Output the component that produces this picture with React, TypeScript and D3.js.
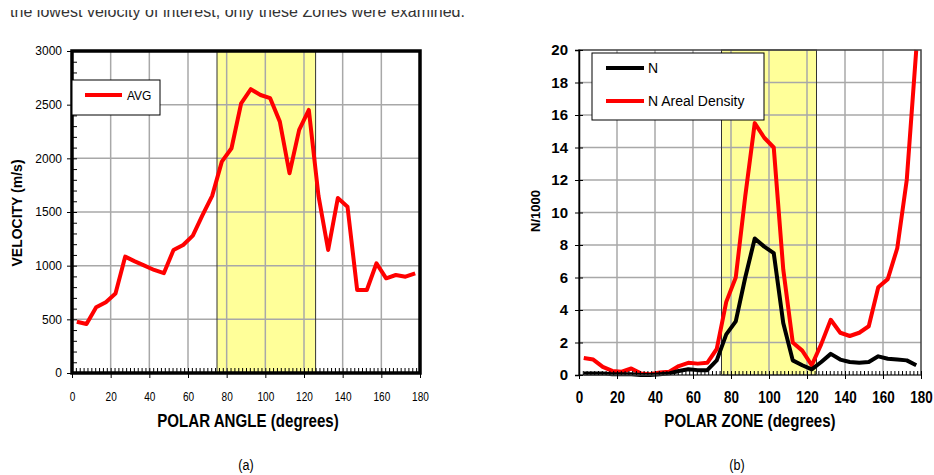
import React, { useEffect, useRef } from "react";
import * as d3 from "d3";

// zone centres (degrees) shared by both panels
const polarAngle = [
  2.5, 7.5, 12.5, 17.5, 22.5, 27.5, 32.5, 37.5, 42.5, 47.5, 52.5, 57.5,
  62.5, 67.5, 72.5, 77.5, 82.5, 87.5, 92.5, 97.5, 102.5, 107.5, 112.5, 117.5,
  122.5, 127.5, 132.5, 137.5, 142.5, 147.5, 152.5, 157.5, 162.5, 167.5, 172.5, 177.5,
];

// (a) average velocity, m/s
const velocityAvg = [
  478, 456, 612, 660, 740, 1084, 1040, 1000, 960, 930, 1146, 1193,
  1280, 1470, 1650, 1969, 2094, 2513, 2644, 2590, 2560, 2342, 1861, 2265,
  2451, 1650, 1146, 1630, 1550, 773, 773, 1022, 882, 913, 897, 929,
];

// (b) N/1000
const nCount = [
  0.1, 0.1, 0.1, 0.05, 0.05, 0.05, 0.0, 0.0, 0.05, 0.1, 0.25, 0.35,
  0.3, 0.3, 0.9, 2.5, 3.3, 6.0, 8.4, 7.9, 7.5, 3.2, 0.9, 0.6,
  0.35, 0.8, 1.3, 0.95, 0.8, 0.75, 0.8, 1.15, 1.0, 0.95, 0.9, 0.6,
];

const nArealDensity = [
  1.05, 0.95, 0.5, 0.25, 0.2, 0.4, 0.1, 0.05, 0.15, 0.2, 0.55, 0.75,
  0.7, 0.75, 1.6, 4.5, 6.0, 11.0, 15.5, 14.6, 14.0, 6.5, 2.0, 1.5,
  0.6, 1.9, 3.4, 2.6, 2.4, 2.6, 3.0, 5.4, 5.9, 7.8, 12.0, 20.0,
];

const xTicks = [0, 20, 40, 60, 80, 100, 120, 140, 160, 180];
const velocityTicks = [0, 500, 1000, 1500, 2000, 2500, 3000];
const densityTicks = [0, 2, 4, 6, 8, 10, 12, 14, 16, 18, 20];
const bandA = [75, 126];
const bandB = [75, 125];

const SANS = "'Liberation Sans', Arial, sans-serif";
const GRID = "#a8a8a8";
const YELLOW = "#ffff99";
const SQUEEZE = 0.84; // mimic Arial Narrow

const App = () => {
  const svgRef = useRef<SVGSVGElement>(null);

  useEffect(() => {
    const svg = d3.select(svgRef.current);
    svg.selectAll("*").remove();

    // cut-off line of body text at the very top
    svg
      .append("defs")
      .append("clipPath")
      .attr("id", "topcut")
      .append("rect")
      .attr("x", 0)
      .attr("y", 10)
      .attr("width", 934)
      .attr("height", 20);
    svg
      .append("text")
      .attr("clip-path", "url(#topcut)")
      .attr("x", 10)
      .attr("y", 17)
      .attr("font-family", SANS)
      .attr("font-size", 16)
      .attr("fill", "#333")
      .attr("textLength", 455)
      .text("the lowest velocity of interest, only these Zones were examined.");

    const narrowText = (g: d3.Selection<any, any, any, any>, x: number, y: number, size: number, bold: boolean, label: string) =>
      g
        .append("text")
        .attr("transform", `translate(${x},${y}) scale(${SQUEEZE},1)`)
        .attr("text-anchor", "middle")
        .attr("font-family", SANS)
        .attr("font-weight", bold ? "bold" : "normal")
        .attr("font-size", size)
        .text(label);

    // ---------- panel (a) ----------
    const xa = d3.scaleLinear().domain([0, 180]).range([72, 420]);
    const ya = d3.scaleLinear().domain([0, 3000]).range([373, 51]);
    const a = svg.append("g");

    a.append("rect")
      .attr("x", xa(bandA[0]))
      .attr("y", ya(3000))
      .attr("width", xa(bandA[1]) - xa(bandA[0]))
      .attr("height", ya(0) - ya(3000))
      .attr("fill", YELLOW);

    a.append("g")
      .selectAll("line")
      .data(xTicks.slice(1, -1))
      .join("line")
      .attr("x1", (d) => xa(d))
      .attr("x2", (d) => xa(d))
      .attr("y1", ya(3000))
      .attr("y2", ya(0))
      .attr("stroke", GRID)
      .attr("stroke-width", 1.5);
    a.append("g")
      .selectAll("line")
      .data(velocityTicks.slice(1, -1))
      .join("line")
      .attr("x1", xa(0))
      .attr("x2", xa(180))
      .attr("y1", (d) => ya(d))
      .attr("y2", (d) => ya(d))
      .attr("stroke", GRID)
      .attr("stroke-width", 1.5);

    a.append("rect")
      .attr("x", xa(bandA[0]))
      .attr("y", ya(3000))
      .attr("width", xa(bandA[1]) - xa(bandA[0]))
      .attr("height", ya(0) - ya(3000))
      .attr("fill", "none")
      .attr("stroke", "#333")
      .attr("stroke-width", 1);

    const lineA = d3
      .line<number>()
      .x((d, i) => xa(polarAngle[i]))
      .y((d) => ya(d));
    a.append("path")
      .datum(velocityAvg)
      .attr("d", lineA)
      .attr("fill", "none")
      .attr("stroke", "#ff0000")
      .attr("stroke-width", 4)
      .attr("stroke-linejoin", "round");

    // minor ticks
    a.append("g")
      .attr("transform", `translate(${xa(0)},0)`)
      .call(d3.axisRight(ya).tickValues(d3.range(0, 3001, 100)).tickSize(5).tickFormat(() => ""))
      .call((g) => g.select(".domain").remove());
    a.append("g")
      .attr("transform", `translate(0,${ya(0)})`)
      .call(d3.axisTop(xa).tickValues(d3.range(0, 181, 2)).tickSize(5).tickFormat(() => ""))
      .call((g) => g.select(".domain").remove());

    a.append("g")
      .attr("transform", `translate(${xa(0)},0)`)
      .call(d3.axisLeft(ya).tickValues(velocityTicks).tickSize(5).tickPadding(5).tickFormat(d3.format("d")))
      .call((g) => g.select(".domain").remove())
      .attr("font-family", SANS)
      .attr("font-size", 12);
    a.append("g")
      .attr("transform", `translate(0,${ya(0)})`)
      .call(d3.axisBottom(xa).tickValues(xTicks).tickSize(5).tickPadding(14))
      .call((g) => g.select(".domain").remove())
      .call((g) => g.selectAll(".tick text").attr("transform", `scale(${SQUEEZE},1)`))
      .attr("font-family", SANS)
      .attr("font-size", 12);

    a.append("rect")
      .attr("x", xa(0))
      .attr("y", ya(3000))
      .attr("width", xa(180) - xa(0))
      .attr("height", ya(0) - ya(3000))
      .attr("fill", "none")
      .attr("stroke", "#000")
      .attr("stroke-width", 3.5);

    // legend (a)
    const la = a.append("g");
    la.append("rect").attr("x", 72).attr("y", 80).attr("width", 88).attr("height", 35)
      .attr("fill", "#fff").attr("stroke", "#000").attr("stroke-width", 1);
    la.append("line").attr("x1", 85).attr("x2", 122).attr("y1", 95).attr("y2", 95)
      .attr("stroke", "#ff0000").attr("stroke-width", 4);
    la.append("text").attr("x", 127).attr("y", 99.5).attr("font-family", SANS)
      .attr("font-size", 12).text("AVG");

    a.append("text")
      .attr("transform", "translate(22,213) rotate(-90)")
      .attr("text-anchor", "middle")
      .attr("font-family", SANS)
      .attr("font-weight", "bold")
      .attr("font-size", 14)
      .text("VELOCITY (m/s)");
    narrowText(a, 248, 427, 18, true, "POLAR ANGLE (degrees)");
    narrowText(a, 246, 470, 15, false, "(a)");

    // ---------- panel (b) ----------
    const xb = d3.scaleLinear().domain([0, 180]).range([579, 921]);
    const yb = d3.scaleLinear().domain([0, 20]).range([375, 50]);
    const b = svg.append("g");

    b.append("rect")
      .attr("x", xb(bandB[0]))
      .attr("y", yb(20))
      .attr("width", xb(bandB[1]) - xb(bandB[0]))
      .attr("height", yb(0) - yb(20))
      .attr("fill", YELLOW);

    b.append("g")
      .selectAll("line")
      .data(xTicks.slice(1, -1))
      .join("line")
      .attr("x1", (d) => xb(d))
      .attr("x2", (d) => xb(d))
      .attr("y1", yb(20))
      .attr("y2", yb(0))
      .attr("stroke", GRID)
      .attr("stroke-width", 1.5);
    b.append("g")
      .selectAll("line")
      .data(densityTicks.slice(1, -1))
      .join("line")
      .attr("x1", xb(0))
      .attr("x2", xb(180))
      .attr("y1", (d) => yb(d))
      .attr("y2", (d) => yb(d))
      .attr("stroke", GRID)
      .attr("stroke-width", 1.5);

    b.append("rect")
      .attr("x", xb(bandB[0]))
      .attr("y", yb(20))
      .attr("width", xb(bandB[1]) - xb(bandB[0]))
      .attr("height", yb(0) - yb(20))
      .attr("fill", "none")
      .attr("stroke", "#333")
      .attr("stroke-width", 1);

    const lineB = d3
      .line<number>()
      .x((d, i) => xb(polarAngle[i]))
      .y((d) => yb(d));
    b.append("path")
      .datum(nArealDensity)
      .attr("d", lineB)
      .attr("fill", "none")
      .attr("stroke", "#ff0000")
      .attr("stroke-width", 4)
      .attr("stroke-linejoin", "round");
    b.append("path")
      .datum(nCount)
      .attr("d", lineB)
      .attr("fill", "none")
      .attr("stroke", "#000")
      .attr("stroke-width", 4)
      .attr("stroke-linejoin", "round");

    b.append("rect")
      .attr("x", xb(0))
      .attr("y", yb(20))
      .attr("width", xb(180) - xb(0))
      .attr("height", yb(0) - yb(20))
      .attr("fill", "none")
      .attr("stroke", "#404040")
      .attr("stroke-width", 1.5);

    b.append("g")
      .attr("transform", `translate(0,${yb(0)})`)
      .call(d3.axisTop(xb).tickValues(d3.range(0, 181, 2)).tickSize(4).tickFormat(() => ""))
      .call((g) => g.select(".domain").remove());
    b.append("g")
      .attr("transform", `translate(0,${yb(0)})`)
      .call(d3.axisTop(xb).tickValues(xTicks).tickSize(4).tickFormat(() => ""))
      .call((g) => g.select(".domain").remove());
    b.append("g")
      .attr("transform", `translate(${xb(0)},0)`)
      .call(d3.axisRight(yb).tickValues(densityTicks).tickSize(4).tickFormat(() => ""))
      .call((g) => g.select(".domain").remove());

    b.append("g")
      .attr("transform", `translate(${xb(0)},0)`)
      .call(d3.axisLeft(yb).tickValues(densityTicks).tickSize(4).tickPadding(7))
      .call((g) => g.select(".domain").attr("stroke-width", 1.5))
      .attr("font-family", SANS)
      .attr("font-weight", "bold")
      .attr("font-size", 15);
    b.append("g")
      .attr("transform", `translate(0,${yb(0)})`)
      .call(d3.axisBottom(xb).tickValues(xTicks).tickSize(4).tickPadding(13))
      .call((g) => g.select(".domain").remove())
      .call((g) => g.selectAll(".tick text").attr("transform", `scale(${SQUEEZE},1)`))
      .attr("font-family", SANS)
      .attr("font-weight", "bold")
      .attr("font-size", 16);

    // legend (b)
    const lb = b.append("g");
    lb.append("rect").attr("x", 592).attr("y", 53).attr("width", 172).attr("height", 67)
      .attr("fill", "#fff").attr("stroke", "#000").attr("stroke-width", 1);
    lb.append("line").attr("x1", 606).attr("x2", 644).attr("y1", 68).attr("y2", 68)
      .attr("stroke", "#000").attr("stroke-width", 4);
    lb.append("text").attr("x", 648).attr("y", 73).attr("font-family", SANS)
      .attr("font-size", 14).text("N");
    lb.append("line").attr("x1", 606).attr("x2", 644).attr("y1", 101).attr("y2", 101)
      .attr("stroke", "#ff0000").attr("stroke-width", 4);
    lb.append("text").attr("x", 648).attr("y", 106).attr("font-family", SANS)
      .attr("font-size", 14).text("N Areal Density");

    b.append("text")
      .attr("transform", "translate(540,211) rotate(-90)")
      .attr("text-anchor", "middle")
      .attr("font-family", SANS)
      .attr("font-weight", "bold")
      .attr("font-size", 13)
      .text("N/1000");
    narrowText(b, 750, 427, 18, true, "POLAR ZONE (degrees)");
    narrowText(b, 737, 470, 15, false, "(b)");
  }, []);

  return (
    <svg
      ref={svgRef}
      width={934}
      height={475}
      style={{ position: "absolute", left: 0, top: 0, display: "block", background: "#fff" }}
    />
  );
};

export default App;
